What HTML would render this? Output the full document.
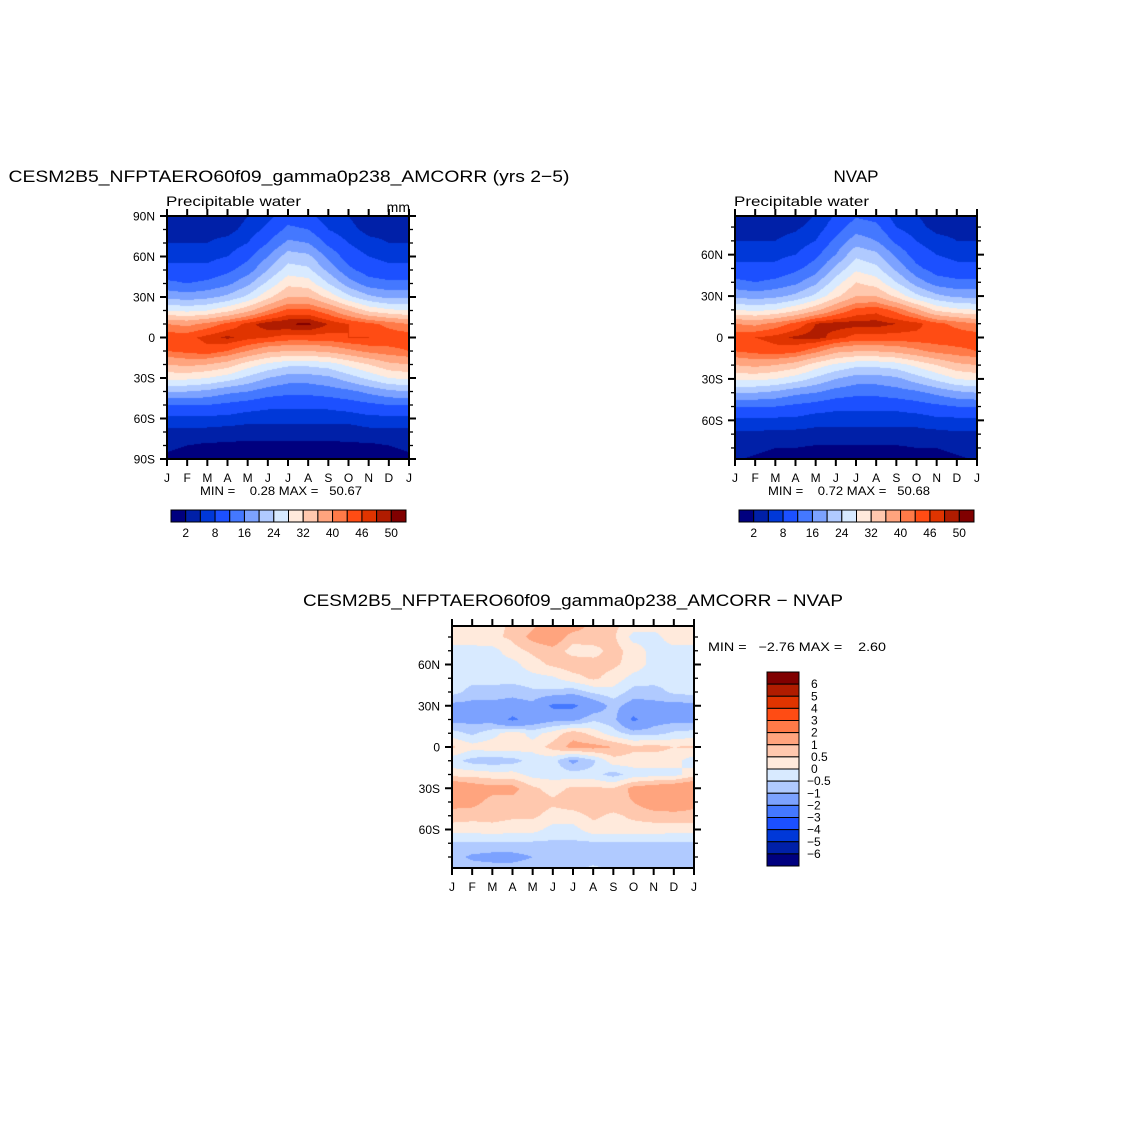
<!DOCTYPE html>
<html><head><meta charset="utf-8"><style>
html,body{margin:0;padding:0;background:#fff;}
#wrap{position:relative;width:1146px;height:1146px;overflow:hidden;background:#fff;font-family:"Liberation Sans",sans-serif;}
canvas{position:absolute;}
svg{position:absolute;left:0;top:0;}
.pre{white-space:pre;}
</style></head><body>
<div id="wrap">
<canvas id="c1"></canvas>
<canvas id="c2"></canvas>
<canvas id="c3"></canvas>
<svg id="ov" width="1146" height="1146"></svg>
</div>
<script>
const months=["J","F","M","A","M","J","J","A","S","O","N","D","J"];
const lats=[90,80,70,60,50,40,30,20,10,0,-10,-20,-30,-40,-50,-60,-70,-80,-90];
const pwLevels=[2,5,8,12,16,20,24,28,32,36,40,43,46,48,50];
const pwTickLabels=["2","8","16","24","32","40","46","50"];
const diffLevels=[-6,-5,-4,-3,-2,-1,-0.5,0,0.5,1,2,3,4,5,6];
const diffTickLabels=["6","5","4","3","2","1","0.5","0","\u22120.5","\u22121","\u22122","\u22123","\u22124","\u22125","\u22126"];
const colors=["#00007f","#0020a8","#0038d8","#1c50ff","#4478ff","#7ca2ff","#b0caff","#d8eaff","#ffeadc","#ffc8ae","#ffa47e","#ff7a48","#ff4c14","#e03400","#b01c00","#800000"];
const model=[
[3,3,3,3,5,7,10,9,6,5,3,3,3],
[4,4,4,4,6,9,13,12,8,6,4,4,4],
[5,5,5,6,8,12,17,16,11,8,6,5,5],
[7,7,7,8,11,16,22,21,15,10,8,7,7],
[9,9,9,11,14,20,26,25,19,13,10,9,9],
[13,12,13,15,19,25,31,30,24,18,14,13,13],
[19,18,19,21,25,31,36,36,31,25,21,19,19],
[28,27,28,31,35,40,44,44,41,36,31,29,28],
[40,39,41,44,47,49.5,50,50.5,48,46,44,42,40],
[45,45,47,48.5,47,46,45,45,45,46,46,45,45],
[43,44,45,43,40,37,36,36,37,39,41,42,43],
[36,37,36,34,30,27,25,25,26,29,32,35,36],
[29,29,28,26,23,20,18,18,19,22,25,28,29],
[20,20,19,17,16,14,13,13,14,15,17,19,20],
[12,12,12,11,10,9,9,9,9,10,11,12,12],
[7,7,7,7,6,6,6,6,6,6,7,7,7],
[4,4,4,3.5,3.5,3.5,3.5,3.5,3.5,3.5,4,4,4],
[2.5,2,1.5,1.5,1.2,1.2,1.2,1.2,1.2,1.5,1.5,2,2.5],
[1.5,1,1,1,1,1,1,1,1,1,1,1,1.5]];
const nvap=[
[3,3,3,3.5,5,8,11,10,6,5,3,3,3],
[4,4,4,4.5,6,10,14,13,8,6,4,4,4],
[5,5,5,6,8,13,18,16,11,8,6,5,5],
[7,7,7,8,11,16,23,21,15,10,8,7,7],
[9,9,9,11,14,21,27,25,19,13,10,9,9],
[13,12,13,15,19,26,32,30,24,18,14,13,13],
[19,18,19,21,25,31,36,36,31,25,21,19,19],
[28,27,28,31,35,40,44,45,42,37,31,29,28],
[40,39,41,44,48,49,49,49,48,47,44,42,40],
[45,46,47,48.5,49,47,45,45,45,45,45,45,45],
[43,44,45,44,41,37,36,36,37,39,41,42,43],
[36,37,36,34,30,27,25,25,26,29,32,35,36],
[29,29,28,26,23,20,18,18,19,22,25,28,29],
[20,20,19,17,16,14,13,13,14,15,17,19,20],
[12,12,12,11,10,9,9,9,9,10,11,12,12],
[7,7,7,7,6,6,6,6,6,6,7,7,7],
[4.5,4.5,4,4,4,4,4,4,4,4,4,4.5,4.5],
[3,2.5,2,2,1.5,1.5,1.5,1.5,1.5,2,2,2.5,3],
[2,1.5,1,1,1,1,1,1,1,1,1,1.5,2]];
const diff=[
[0.3,0.3,0.3,0.6,0.8,1.5,1.5,0.8,0.6,0.4,0.3,0.3,0.3],
[0.3,0.3,0.4,0.6,1.2,1.5,0.7,0.8,0.6,-0.2,-0.2,0.3,0.3],
[-0.2,-0.2,-0.2,0.3,0.6,0.8,0.3,0.3,0.7,0.3,-0.2,-0.2,-0.2],
[-0.2,-0.2,-0.2,-0.2,0.3,0.6,0.8,0.7,0.6,0.3,-0.2,-0.2,-0.2],
[-0.2,-0.3,-0.3,-0.3,-0.2,-0.1,0.3,0.6,0.3,-0.2,-0.3,-0.3,-0.2],
[-0.3,-0.7,-0.7,-0.8,-0.6,-0.6,-0.8,-0.4,-0.2,-0.7,-0.7,-0.4,-0.3],
[-1.2,-1.2,-1.2,-1.3,-1.2,-2.2,-2.2,-1.5,-0.8,-1.3,-1.2,-1.2,-1.2],
[-1.2,-1.2,-1.3,-2.2,-1.5,-1.2,-1.2,-0.6,-0.8,-2.2,-1.3,-1.2,-1.2],
[-0.3,-0.6,-0.2,0.3,-0.2,0.2,0.8,0.3,-0.3,-0.7,-0.7,-0.4,-0.3],
[0.6,0.2,0.3,0.3,0.2,0.7,1.2,1.2,1.0,0.6,0.7,0.5,0.6],
[-0.3,-0.7,-0.8,-0.7,-0.3,-0.3,-1.2,-0.6,0.3,0.3,0.2,0.2,-0.3],
[0.3,0.3,0.2,0.2,-0.2,-0.2,-0.3,-0.3,-0.7,-0.3,-0.2,-0.2,0.3],
[1.8,1.4,1.2,1.2,0.6,0.3,0.6,0.6,0.5,1.2,1.4,1.6,1.8],
[1.2,1.2,0.8,0.8,0.8,0.6,0.8,0.8,0.8,1.0,1.5,1.5,1.2],
[0.8,0.7,0.7,0.6,0.6,0.3,0.3,0.6,0.4,0.6,0.7,0.8,0.8],
[0.2,0.2,0.3,0.2,0.2,-0.2,-0.2,0.3,0.3,0.3,0.3,0.2,0.2],
[-0.6,-0.6,-0.6,-0.6,-0.6,-0.6,-0.6,-0.6,-0.6,-0.6,-0.6,-0.6,-0.6],
[-0.8,-1.1,-1.2,-1.2,-1.0,-0.8,-0.8,-0.8,-0.7,-0.7,-0.7,-0.7,-0.8],
[-0.7,-0.7,-0.7,-0.7,-0.7,-0.7,-0.6,-0.3,-0.6,-0.7,-0.7,-0.7,-0.7]];

const NS="http://www.w3.org/2000/svg";
const ov=document.getElementById('ov');
function mk(tag,attrs,parent){const e=document.createElementNS(NS,tag);for(const k in attrs)e.setAttribute(k,attrs[k]);(parent||ov).appendChild(e);return e;}
function txt(x,y,s,size,anchor,name,len){const t=mk('text',{x:x,y:y,'font-size':size,'text-anchor':anchor||'middle','font-family':'Liberation Sans, sans-serif',fill:'#000'});


if(len){t.setAttribute('textLength',len);t.setAttribute('lengthAdjust','spacingAndGlyphs');}
t.textContent=s;return t;}
function hexRgb(h){return [parseInt(h.substr(1,2),16),parseInt(h.substr(3,2),16),parseInt(h.substr(5,2),16)];}
const rgb=colors.map(hexRgb);
function levelIndex(v,levels){let i=0;while(i<levels.length&&v>=levels[i])i++;return i;}
function sample(data,m,lat){
  const r=(90-lat)/10;const r0=Math.min(17,Math.floor(r));const fr=r-r0;
  const c0=Math.min(11,Math.floor(m));const fc=m-c0;
  const a=data[r0][c0],b=data[r0][c0+1],c=data[r0+1][c0],d=data[r0+1][c0+1];
  return (a*(1-fc)+b*fc)*(1-fr)+(c*(1-fc)+d*fc)*fr;}
function drawField(id,P,data,levels){
  const cv=document.getElementById(id);const w=P.x1-P.x0,h=P.y1-P.y0;
  cv.width=w;cv.height=h;cv.style.left=P.x0+'px';cv.style.top=P.y0+'px';
  const ctx=cv.getContext('2d');const img=ctx.createImageData(w,h);
  for(let y=0;y<h;y++){const lat=P.latMax-(y+0.5)/h*(2*P.latMax);
    for(let x=0;x<w;x++){const m=(x+0.5)/w*12;const v=sample(data,m,lat);const c=rgb[levelIndex(v,levels)];
      const k=(y*w+x)*4;img.data[k]=c[0];img.data[k+1]=c[1];img.data[k+2]=c[2];img.data[k+3]=255;}}
  ctx.putImageData(img,0,0);}
function drawAxes(P,labels,pre){
  const g=mk('g',{});
  const w=P.x1-P.x0;const yOf=l=>P.y0+(P.latMax-l)/(2*P.latMax)*(P.y1-P.y0);
  for(let i=0;i<13;i++){const x=P.x0+i*w/12;
    mk('line',{x1:x,x2:x,y1:P.y1,y2:P.y1+7,stroke:'#000','stroke-width':2},g);
    mk('line',{x1:x,x2:x,y1:P.y0,y2:P.y0-7,stroke:'#000','stroke-width':2},g);
    txt(x,P.y1+23,months[i],12,'middle',pre+'-month-label');}
  for(let l=-90;l<=90;l+=10){if(Math.abs(l)>P.latMax)continue;const y=yOf(l);const maj=l%30===0;
    const L=maj?7:4;
    mk('line',{x1:P.x0-L,x2:P.x0,y1:y,y2:y,stroke:'#000','stroke-width':maj?2:1.3},g);
    mk('line',{x1:P.x1,x2:P.x1+L,y1:y,y2:y,stroke:'#000','stroke-width':maj?2:1.3},g);}
  labels.forEach(s=>{const l=s==="0"?0:(parseInt(s)*(s.endsWith('S')?-1:1));txt(P.x0-12,yOf(l)+4.5,s,12,'end',pre+'-lat-label');});
  mk('rect',{x:P.x0,y:P.y0,width:w,height:P.y1-P.y0,fill:'none',stroke:'#000','stroke-width':2},g);}
function hbar(x0,x1,y,h,levels,labels,pre){
  const n=colors.length,bw=(x1-x0)/n;
  for(let i=0;i<n;i++){const r=mk('rect',{x:x0+i*bw,y:y,width:bw,height:h,fill:colors[i],stroke:'#000','stroke-width':1});
    
    }
  labels.forEach(s=>{const j=levels.indexOf(Number(s));txt(x0+(j+1)*bw,y+h+15,s,12,'middle',pre+'-colorbar-label');});}
function vbar(x0,y0,w,y1,labels,pre){
  const n=colors.length,bh=(y1-y0)/n;
  for(let i=0;i<n;i++){const r=mk('rect',{x:x0,y:y0+i*bh,width:w,height:bh,fill:colors[n-1-i],stroke:'#000','stroke-width':1});
    
    }
  labels.forEach((s,i)=>{const y=y0+(i+1)*bh;txt(x0+w+12+(s.length>3?-4:(s.startsWith('\u2212')?-4:0)),y+4,s,12,'start',pre+'-colorbar-label');});}

const P1={x0:167,x1:409,y0:216,y1:459,latMax:90};
const P2={x0:735,x1:977,y0:216,y1:459,latMax:88};
const P3={x0:452,x1:694,y0:626,y1:868,latMax:88};
drawField('c1',P1,model,pwLevels);
drawField('c2',P2,nvap,pwLevels);
drawField('c3',P3,diff,diffLevels);
drawAxes(P1,["90N","60N","30N","0","30S","60S","90S"],'model');
drawAxes(P2,["60N","30N","0","30S","60S"],'nvap');
drawAxes(P3,["60N","30N","0","30S","60S"],'diff');
txt(289,182,"CESM2B5_NFPTAERO60f09_gamma0p238_AMCORR (yrs 2\u22125)",17,'middle','model-title',561);
txt(166,206,"Precipitable water",14,'start','model-subtitle',135);
txt(410,212,"mm",14,'end','model-units');
txt(856,182,"NVAP",17,'middle','nvap-title');
txt(734,206,"Precipitable water",14,'start','nvap-subtitle',135);
txt(573,606,"CESM2B5_NFPTAERO60f09_gamma0p238_AMCORR \u2212 NVAP",17,'middle','diff-title',540);
const m1=txt(200,495,"MIN =    0.28 MAX =   50.67",12,'start','model-minmax',162);m1.setAttribute('class','pre');
const m2=txt(768,495,"MIN =    0.72 MAX =   50.68",12,'start','nvap-minmax',162);m2.setAttribute('class','pre');
const m3=txt(708,651,"MIN =   \u22122.76 MAX =    2.60",12,'start','diff-minmax',178);m3.setAttribute('class','pre');
hbar(171,406,510,12,pwLevels,pwTickLabels,'model');
hbar(739,974,510,12,pwLevels,pwTickLabels,'nvap');
vbar(767,672,32,866,diffTickLabels,'diff');
</script>
</body></html>
